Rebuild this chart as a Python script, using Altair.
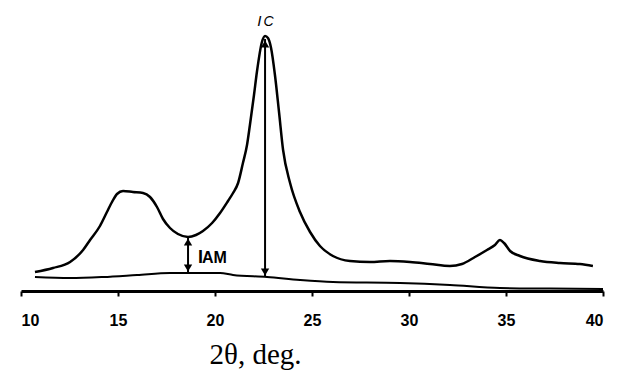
import altair as alt
import pandas as pd

# Main diffraction curve (2theta, intensity)
two_theta = [10.72, 11.65, 12.53, 13.20, 13.56, 14.07, 14.43, 14.69, 14.95, 15.26, 15.77,
             16.29, 16.65, 17.01, 17.32, 17.68, 18.09, 18.61, 19.02, 19.38, 19.85, 20.26,
             20.67, 20.93, 21.19, 21.44, 21.65, 21.80, 22.01, 22.16, 22.42, 22.58, 22.73,
             22.89, 23.09, 23.30, 23.51, 23.87, 24.38, 24.90, 25.41, 26.08, 26.96, 27.99,
             29.02, 30.05, 31.08, 32.11, 32.73, 33.40, 34.02, 34.43, 34.69, 34.90, 35.21,
             35.72, 36.75, 37.78, 38.81, 39.48]
intensity = [19, 23, 29, 41, 51, 65, 79, 89, 97, 100, 99,
             98, 94, 84, 72, 63, 57, 54, 56, 60, 68, 78,
             90, 98, 108, 128, 146, 166, 196, 219, 249, 255, 253,
             243, 216, 179, 141, 108, 79, 59, 45, 35, 30, 29,
             30, 29, 27, 25, 27, 34, 41, 46, 51, 48, 40,
             35, 30, 28, 27, 25]

# Amorphous baseline curve
base_theta = [10.72, 12.53, 14.23, 15.98, 17.68, 18.56, 20.26, 20.93, 22.68, 24.38,
              26.08, 29.54, 32.11, 34.69, 37.27, 40.00]
base_intensity = [14, 13, 14, 16, 18, 18, 18, 16, 14, 11, 9, 8, 6, 3, 2.5, 2]

tick_values = [10, 15, 20, 25, 30, 35, 40]

# Annotation arrows: x, top, bottom
arrow_names = ["Ic", "IAM"]
arrow_x = [22.58, 18.61]
arrow_top = [252, 54]
arrow_bottom = [14, 18]

# Annotation labels
italic_text = ["I", "C"]
italic_x = [22.18, 22.50]
italic_y = [265, 265]
italic_size = [15, 14]
bold_text = ["I", "AM"]
bold_x = [19.12, 19.33]
bold_y = [28, 28]
bold_size = [18, 16]

main_df = pd.DataFrame({"x": two_theta, "y": intensity})
base_df = pd.DataFrame({"x": base_theta, "y": base_intensity})
arr_df = pd.DataFrame({"name": arrow_names, "x": arrow_x, "top": arrow_top, "bottom": arrow_bottom})
up_df = pd.DataFrame({"x": arrow_x, "y": [t - 5 for t in arrow_top]})
down_df = pd.DataFrame({"x": arrow_x, "y": [b + 5 for b in arrow_bottom]})
it_df = pd.DataFrame({"t": italic_text, "x": italic_x, "y": italic_y, "s": italic_size})
bd_df = pd.DataFrame({"t": bold_text, "x": bold_x, "y": bold_y, "s": bold_size})

xscale = alt.Scale(domain=[10, 40], nice=False, zero=False)
yscale = alt.Scale(domain=[0, 281], nice=False)

xaxis = alt.Axis(values=tick_values, title="2θ, deg.", grid=False,
                 domainColor="black", domainWidth=3, tickColor="black", tickWidth=2,
                 tickSize=5, labelFont="Liberation Sans", labelFontWeight="bold",
                 labelFontSize=16, labelColor="black", labelPadding=16,
                 titleFont="Liberation Serif", titleFontWeight="normal", titleFontSize=29,
                 titleColor="black", titleX=234, titleY=72, titleAlign="center",
                 titleBaseline="alphabetic")

main = alt.Chart(main_df).mark_line(color="black", strokeWidth=2.5, interpolate="monotone").encode(
    x=alt.X("x:Q", scale=xscale, axis=xaxis),
    y=alt.Y("y:Q", scale=yscale, axis=None),
)
base = alt.Chart(base_df).mark_line(color="black", strokeWidth=2, interpolate="monotone").encode(
    x=alt.X("x:Q"), y=alt.Y("y:Q"))

rules = alt.Chart(arr_df).mark_rule(color="black", strokeWidth=2).encode(
    x=alt.X("x:Q"), y=alt.Y("top:Q"), y2="bottom:Q")
ups = alt.Chart(up_df).mark_point(shape="triangle-up", filled=True, color="black",
                                  size=70, opacity=1).encode(
    x=alt.X("x:Q"), y=alt.Y("y:Q"))
downs = alt.Chart(down_df).mark_point(shape="triangle-down", filled=True, color="black",
                                      size=70, opacity=1).encode(
    x=alt.X("x:Q"), y=alt.Y("y:Q"))

it_text = alt.Chart(it_df).mark_text(
    font="Liberation Sans", fontStyle="italic", align="left", baseline="alphabetic",
    color="black").encode(
    x=alt.X("x:Q"), y=alt.Y("y:Q"), text="t:N", size=alt.Size("s:Q", scale=None, legend=None))
bd_text = alt.Chart(bd_df).mark_text(
    font="Liberation Sans", fontWeight="bold", align="left", baseline="alphabetic",
    color="black").encode(
    x=alt.X("x:Q"), y=alt.Y("y:Q"), text="t:N", size=alt.Size("s:Q", scale=None, legend=None))

chart = alt.layer(main, base, rules, ups, downs, it_text, bd_text).properties(
    width=582, height=281,
    autosize=alt.AutoSizeParams(type="none"),
    padding={"left": 21, "top": 10, "right": 16, "bottom": 83},
    background="white",
).configure_view(strokeWidth=0)

chart.save("out.html", embed_options={"renderer": "svg", "actions": False})
